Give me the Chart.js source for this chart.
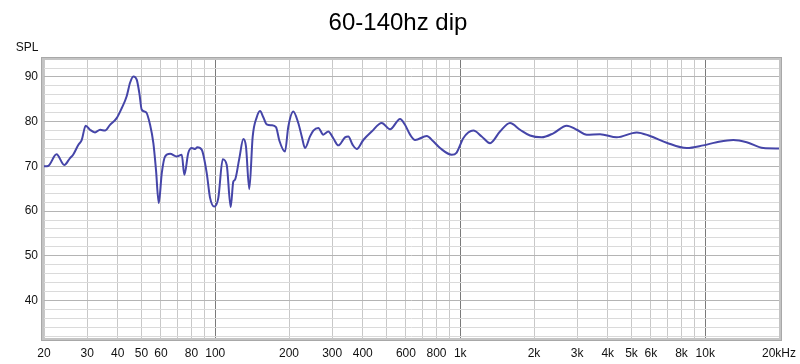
<!DOCTYPE html>
<html>
<head>
<meta charset="utf-8">
<script src="https://cdn.jsdelivr.net/npm/chart.js@4"></script>
<style>
  html, body { margin: 0; padding: 0; background: #fff; }
  #wrap { width: 800px; height: 364px; }
</style>
</head>
<body>
<div id="wrap"><canvas id="spl"></canvas></div>
<script>
const freqs = [20, 20.8, 22.5, 24.2, 25.5, 26.3, 27.6, 28.5, 29.6, 30.8, 32.3, 33.9, 35.5, 37.2, 39.6,
  41.5, 43.5, 44.9, 46.3, 47.8, 49.0, 50.1, 52.2, 54.2, 55.9, 57.3, 58.8, 60.5, 62.4, 65.4, 69.6,
  73.0, 74.8, 77.6, 80.2, 82.7, 84.5, 88.1, 92.3, 95.2, 99.1, 102.9, 107.3, 111.4, 115.6, 118.5,
  120.4, 125.4, 130.2, 133.5, 137.7, 142.2, 147.7, 152.3, 157.1, 162.2, 170, 177, 182.6, 192.6,
  198.7, 208.2, 218.2, 225.5, 232.5, 243.7, 251.4, 263.5, 276, 289.4, 303.2, 317.9, 338.6, 349.2,
  364, 377.9, 402, 435, 478, 517, 568, 595, 624, 654, 730, 776, 827, 923, 967, 1029, 1131, 1223,
  1323, 1453, 1596, 1754, 1926, 2150, 2398, 2720, 2988, 3282, 3720, 4352, 5252, 5950, 6958, 8402,
  9818, 11136, 13022, 14766, 17258, 20000];
const spl = [70.0, 70.1, 72.7, 70.3, 71.8, 72.6, 74.8, 75.9, 79.1, 78.2, 77.6, 78.2, 78.0, 79.3, 80.8,
  83.0, 85.7, 88.7, 90.1, 89.4, 86.4, 82.7, 82.1, 79.3, 75.2, 69.2, 61.8, 68.5, 72.2, 72.8, 72.2,
  72.6, 68.1, 73.0, 74.1, 73.9, 74.3, 73.7, 68.5, 63.0, 61.0, 62.9, 71.6, 70.3, 60.9, 66.6,
  67.0, 71.8, 76.1, 74.4, 64.9, 76.7, 81.0, 82.4, 81.0, 79.4, 79.2, 78.8, 75.8, 73.3,
  78.9, 82.3, 79.7, 76.7, 74.1, 76.7, 78.0, 78.6, 77.1, 77.8, 76.3, 74.7, 76.5, 76.7,
  74.8, 73.9, 75.9, 77.8, 79.7, 78.3, 80.6, 79.3, 77.1, 75.9, 76.8, 75.6, 74.1, 72.6, 73.1, 76.3, 78.0, 76.7,
  75.2, 77.8, 79.7, 78.2, 76.9, 76.5, 77.4, 79.1, 78.2, 77.1, 77.2, 76.5, 77.6, 76.8, 75.3, 74.1,
  74.7, 75.4, 75.9, 75.4, 74.1, 74.0];

const gridFreqs = [20, 30, 40, 50, 60, 70, 80, 90, 100, 200, 300, 400, 500, 600, 700, 800, 900,
  1000, 2000, 3000, 4000, 5000, 6000, 7000, 8000, 9000, 10000, 20000];
const labelFreqs = [20, 30, 40, 50, 60, 80, 100, 200, 300, 400, 600, 800, 1000, 2000, 3000, 4000,
  5000, 6000, 8000, 10000, 20000];
const splTicks = [32, 34, 36, 38, 40, 42, 44, 46, 48, 50, 52, 54, 56, 58, 60, 62, 64, 66, 68, 70,
  72, 74, 76, 78, 80, 82, 84, 86, 88, 90, 92];

function freqLabel(v) {
  if (!labelFreqs.includes(v)) return '';
  if (v === 20000) return '20kHz';
  return v >= 1000 ? (v / 1000) + 'k' : String(v);
}

const decorations = {
  id: 'decorations',
  afterDraw(chart) {
    const ctx = chart.ctx;
    const a = chart.chartArea;
    ctx.save();
    // frame
    ctx.strokeStyle = '#c4c4c4';
    ctx.lineWidth = 3;
    ctx.strokeRect(a.left - 1.5, a.top - 1.5, a.right - a.left + 3, a.bottom - a.top + 3);
    ctx.strokeStyle = '#a8a8a8';
    ctx.lineWidth = 1;
    ctx.strokeRect(a.left - 2.5, a.top - 2.5, a.right - a.left + 5, a.bottom - a.top + 5);
    // title + axis name
    ctx.fillStyle = '#000';
    ctx.textAlign = 'center';
    ctx.textBaseline = 'middle';
    ctx.font = '24px "Liberation Sans", Arial, sans-serif';
    ctx.fillText('60-140hz dip', 398, 23);
    ctx.font = '12px "Liberation Sans", Arial, sans-serif';
    ctx.fillStyle = '#111';
    ctx.fillText('SPL', 27, 48);
    ctx.restore();
  }
};

new Chart(document.getElementById('spl'), {
  type: 'line',
  data: {
    datasets: [{
      data: freqs.map((f, i) => ({ x: f, y: spl[i] })),
      borderColor: '#4545a8',
      borderWidth: 2,
      pointRadius: 0,
      cubicInterpolationMode: 'monotone',
      fill: false
    }]
  },
  options: {
    responsive: true,
    maintainAspectRatio: false,
    animation: false,
    layout: { padding: { top: 60, right: 21, left: 0, bottom: 0 } },
    plugins: { legend: { display: false }, tooltip: { enabled: false } },
    scales: {
      x: {
        type: 'logarithmic',
        min: 20,
        max: 20000,
        afterBuildTicks: s => { s.ticks = gridFreqs.map(v => ({ value: v })); },
        afterFit: s => { s.height = 26; s.paddingRight = 0; },
        border: { display: false },
        grid: {
          drawTicks: false,
          color: c => [100, 1000, 10000].includes(c.tick.value) ? '#7a7a7a' : '#c8c8c8'
        },
        ticks: {
          autoSkip: false,
          maxRotation: 0,
          padding: 8,
          color: '#111',
          font: { family: '"Liberation Sans", Arial, sans-serif', size: 12 },
          callback: v => freqLabel(v)
        }
      },
      y: {
        min: 31.6,
        max: 93.8,
        afterBuildTicks: s => { s.ticks = splTicks.map(v => ({ value: v })); },
        afterFit: s => { s.width = 44; },
        border: { display: false },
        grid: {
          drawTicks: false,
          color: c => c.tick.value % 10 === 0 ? '#b4b4b4' : '#dadada'
        },
        ticks: {
          autoSkip: false,
          padding: 6,
          color: '#111',
          font: { family: '"Liberation Sans", Arial, sans-serif', size: 12 },
          callback: v => v % 10 === 0 ? String(v) : ''
        }
      }
    }
  },
  plugins: [decorations]
});
</script>
</body>
</html>
